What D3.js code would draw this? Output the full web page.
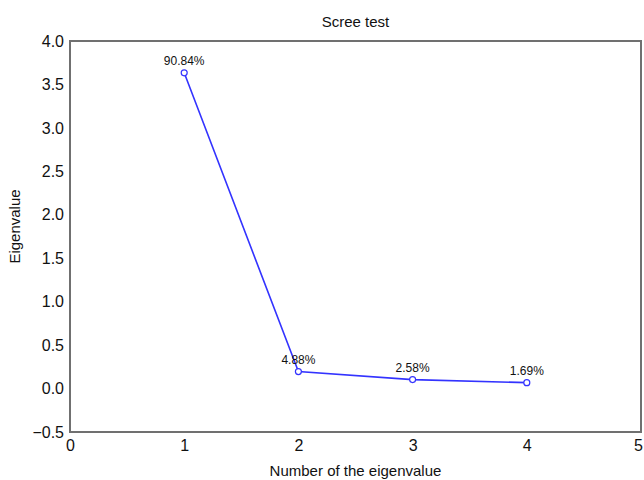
<!DOCTYPE html>
<html>
<head>
<meta charset="utf-8">
<script src="https://cdn.jsdelivr.net/npm/d3@7"></script>
<style>
  body { margin: 0; background: #fff; }
  text { font-family: "Liberation Sans", Arial, sans-serif; }
</style>
</head>
<body>
<svg id="scree" width="644" height="480"></svg>
<script>
const eigenNumbers = [1, 2, 3, 4];
const eigenValues = [3.634, 0.195, 0.103, 0.068];
const pctLabels = ["90.84%", "4.88%", "2.58%", "1.69%"];
const xTicks = [0, 1, 2, 3, 4, 5];
const yTicks = [-0.5, 0, 0.5, 1, 1.5, 2, 2.5, 3, 3.5, 4];

const width = 644, height = 480;
const margin = { top: 41, right: 3, bottom: 48, left: 70 };
const innerW = width - margin.left - margin.right;
const innerH = height - margin.top - margin.bottom;

const svg = d3.select("#scree");
const g = svg.append("g")
    .attr("transform", `translate(${margin.left}, ${margin.top})`);

const x = d3.scaleLinear().domain([0, 5]).range([0, innerW]);
const y = d3.scaleLinear().domain([-0.5, 4]).range([innerH, 0]);

// axes (labels only, no tick marks)
const xAxis = g.append("g")
    .attr("transform", `translate(0, ${innerH})`)
    .call(d3.axisBottom(x).tickValues(xTicks).tickFormat(d3.format("d")).tickSize(0).tickPadding(8));
xAxis.select(".domain").remove();
xAxis.selectAll("text").style("font-size", "16px").attr("fill", "#111");
// last label sits at the frame's right edge, keep it inside the page
xAxis.selectAll("text").filter(d => d === 5).attr("dx", "-3");

const yAxis = g.append("g")
    .call(d3.axisLeft(y).tickValues(yTicks).tickFormat(d3.format(".1f")).tickSize(0).tickPadding(6));
yAxis.select(".domain").remove();
yAxis.selectAll("text").style("font-size", "16px").attr("fill", "#111");

// frame
g.append("rect")
    .attr("x", 0)
    .attr("y", 0)
    .attr("width", innerW)
    .attr("height", innerH)
    .attr("fill", "none")
    .attr("stroke", "#707070")
    .attr("stroke-width", 2);

const pts = eigenNumbers.map((n, i) => ({ n, v: eigenValues[i], label: pctLabels[i] }));

const line = d3.line()
    .x(d => x(d.n))
    .y(d => y(d.v));

g.append("path")
    .datum(pts)
    .attr("d", line)
    .attr("fill", "none")
    .attr("stroke", "#3333ff")
    .attr("stroke-width", 1.6);

g.selectAll("circle")
    .data(pts)
    .enter()
    .append("circle")
    .attr("cx", d => x(d.n))
    .attr("cy", d => y(d.v))
    .attr("r", 3)
    .attr("fill", "#fff")
    .attr("stroke", "#3333ff")
    .attr("stroke-width", 1.2);

g.selectAll(".pct")
    .data(pts)
    .enter()
    .append("text")
    .attr("class", "pct")
    .attr("x", d => x(d.n))
    .attr("y", d => y(d.v) - 8)
    .attr("text-anchor", "middle")
    .style("font-size", "12px")
    .attr("fill", "#111")
    .text(d => d.label);

// title
svg.append("text")
    .attr("x", margin.left + innerW / 2)
    .attr("y", 27)
    .attr("text-anchor", "middle")
    .style("font-size", "15px")
    .attr("fill", "#111")
    .text("Scree test");

svg.append("text")
    .attr("x", margin.left + innerW / 2)
    .attr("y", 476)
    .attr("text-anchor", "middle")
    .style("font-size", "15px")
    .attr("fill", "#111")
    .text("Number of the eigenvalue");

svg.append("text")
    .attr("transform", "rotate(-90)")
    .attr("x", -(margin.top + innerH / 2) + 10)
    .attr("y", 20)
    .attr("text-anchor", "middle")
    .style("font-size", "15px")
    .attr("fill", "#111")
    .text("Eigenvalue");
</script>
</body>
</html>
